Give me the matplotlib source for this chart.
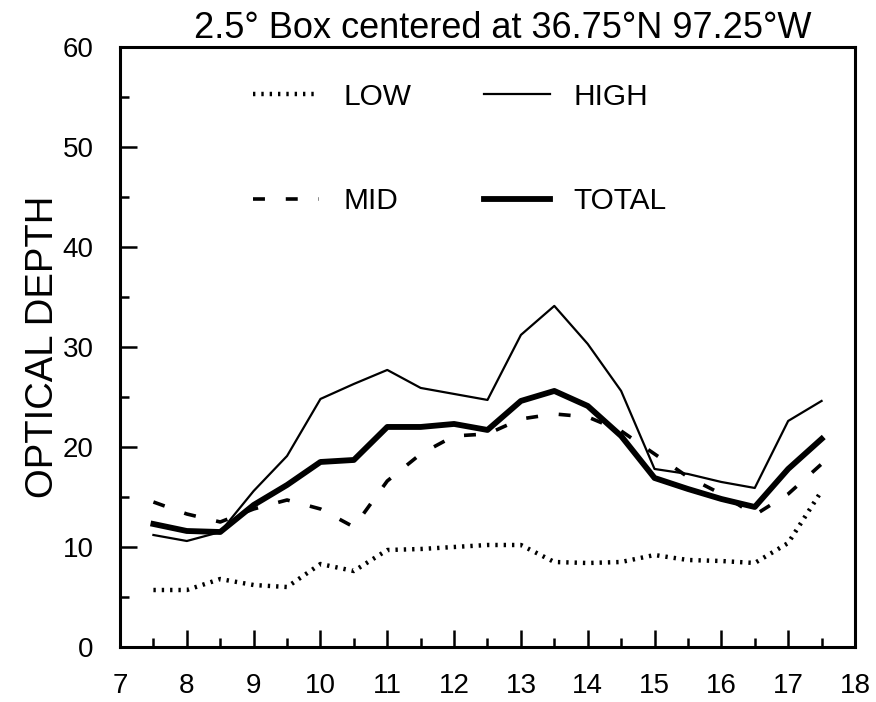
import numpy as np
import matplotlib
matplotlib.use("Agg")
import matplotlib.pyplot as plt
from matplotlib.ticker import MultipleLocator

# local time (hours) and optical depth per cloud level
hours = [7.5, 8, 8.5, 9, 9.5, 10, 10.5, 11, 11.5, 12, 12.5,
         13, 13.5, 14, 14.5, 15, 15.5, 16, 16.5, 17, 17.5]
low = [5.7, 5.7, 6.8, 6.2, 6.0, 8.3, 7.6, 9.7, 9.8, 10.0, 10.2,
       10.2, 8.5, 8.4, 8.5, 9.2, 8.7, 8.6, 8.4, 10.4, 15.6]
mid = [14.5, 13.3, 12.5, 13.8, 14.7, 13.8, 12.0, 16.6, 19.3, 21.1, 21.3,
       22.8, 23.3, 23.0, 21.6, 19.3, 17.0, 15.3, 13.2, 15.3, 18.3]
high = [11.2, 10.6, 11.5, 15.6, 19.1, 24.8, 26.3, 27.7, 25.9, 25.3, 24.7,
        31.2, 34.1, 30.3, 25.6, 17.8, 17.3, 16.5, 15.9, 22.6, 24.6]
total = [12.3, 11.6, 11.5, 14.2, 16.2, 18.5, 18.7, 22.0, 22.0, 22.3, 21.7,
         24.6, 25.6, 24.1, 21.1, 16.9, 15.8, 14.8, 14.0, 17.8, 20.8]

plt.rcParams['font.family'] = ['Liberation Sans', 'DejaVu Sans']
plt.rcParams['lines.scale_dashes'] = False

fig = plt.figure(figsize=(8.76, 7.02), dpi=100)
ax = fig.add_axes([0.137, 0.0783, 0.839, 0.855])

l_low, = ax.plot(hours, low, color='black', lw=3.2, linestyle=(0, (1.7, 4.3)),
                 dash_capstyle='butt', label='LOW')
l_mid, = ax.plot(hours, mid, color='black', lw=2.6, linestyle=(0, (8.6, 15)),
                 dash_capstyle='butt', label='MID')
l_high, = ax.plot(hours, high, color='black', lw=1.6, label='HIGH')
l_total, = ax.plot(hours, total, color='black', lw=4.2, label='TOTAL')

ax.set_xlim(7, 18)
ax.set_ylim(0, 60)
ax.xaxis.set_major_locator(MultipleLocator(1))
ax.xaxis.set_minor_locator(MultipleLocator(0.5))
ax.yaxis.set_major_locator(MultipleLocator(10))
ax.yaxis.set_minor_locator(MultipleLocator(5))
ax.tick_params(which='both', direction='in', width=1.8, top=False, right=False)
ax.tick_params(which='major', length=12, pad=19, labelsize=20)
ax.tick_params(which='minor', length=6.5)
for s in ax.spines.values():
    s.set_linewidth(2.2)

ax.set_ylabel('OPTICAL DEPTH', fontsize=27.5, labelpad=1)
ax.set_title('2.5° Box centered at 36.75°N 97.25°W', fontsize=26, pad=6, x=0.521)

ax.legend(handles=[l_low, l_mid, l_high, l_total], ncol=2, frameon=False,
          fontsize=21.5, handlelength=2.2, handletextpad=0.8,
          columnspacing=2.45, labelspacing=2.57,
          loc='upper left', bbox_to_anchor=(0.145, 0.985))

fig.savefig('out.png', dpi=100)
